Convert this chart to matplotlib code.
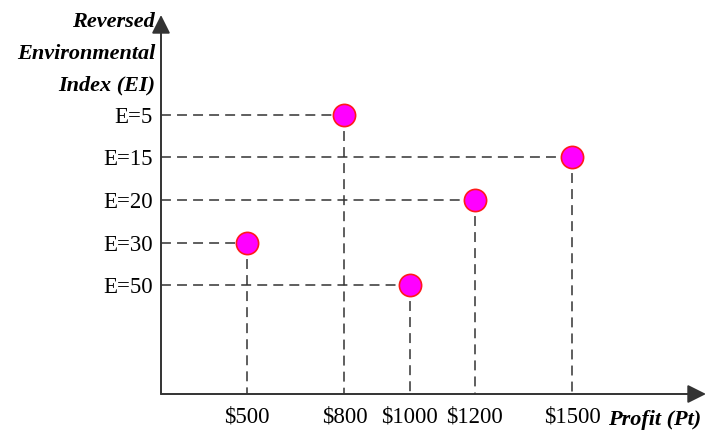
import matplotlib
matplotlib.use("Agg")
import matplotlib.pyplot as plt

plt.rcParams.update({"font.family": "Liberation Serif", "font.size": 16.5})

# datos
beneficio = [500, 800, 1000, 1200, 1500]
indice_e = ["E=30", "E=5", "E=50", "E=20", "E=15"]
etiq_x = ["$500", "$800", "$1000", "$1200", "$1500"]
etiq_y = ["E=5", "E=15", "E=20", "E=30", "E=50"]   # orden del eje (esquemático)

GRIS = "#333333"

fig = plt.figure(figsize=(7.13, 4.30), dpi=100)
ax = fig.add_axes([161 / 713, 36 / 430, 545 / 713, 379 / 430])
ax.yaxis.update_units(etiq_y)
ax.set_xlim(237, 1910)
for s in ax.spines.values():
    s.set_visible(False)

# ejes con flecha
flecha = dict(arrowstyle="-|>", color=GRIS, lw=1.4, mutation_scale=28, shrinkA=0, shrinkB=0)
ax.annotate("", xy=(0, 1), xytext=(0, 0), xycoords="axes fraction", arrowprops=flecha)
ax.annotate("", xy=(1, 0), xytext=(0, 0), xycoords="axes fraction", arrowprops=flecha)

# líneas guía discontinuas
x0 = ax.get_xlim()[0]
for x, e in zip(beneficio, indice_e):
    ax.plot([x0, x], [e, e], ls=(0, (6.5, 4)), color=GRIS, lw=1.1, zorder=1)
    ax.plot([x, x], [ax.yaxis.convert_units(e), 6.54], ls=(0, (6.5, 4)), color=GRIS, lw=1.1, zorder=1)

ax.plot(beneficio, indice_e, "o", ms=16, mfc="#ff00ff", mec="#ff1a1a", mew=1.2, zorder=3, clip_on=False)

ax.set_xticks(beneficio, etiq_x)
ax.set_ylim(6.54, -2.33)  # E pequeño arriba
ax.tick_params(length=0)
ax.tick_params(axis="x", pad=9)
ax.tick_params(axis="y", pad=6)

ax.text(-0.011, 1.009, "Reversed\nEnvironmental\nIndex (EI)", transform=ax.transAxes,
        ha="right", va="top", fontsize=16, fontweight="bold", fontstyle="italic", linespacing=1.8)
ax.text(0.82, -0.068, "Profit (Pt)", transform=ax.transAxes, ha="left", va="center",
        fontsize=16, fontweight="bold", fontstyle="italic")

fig.savefig("out.png", dpi=100)
